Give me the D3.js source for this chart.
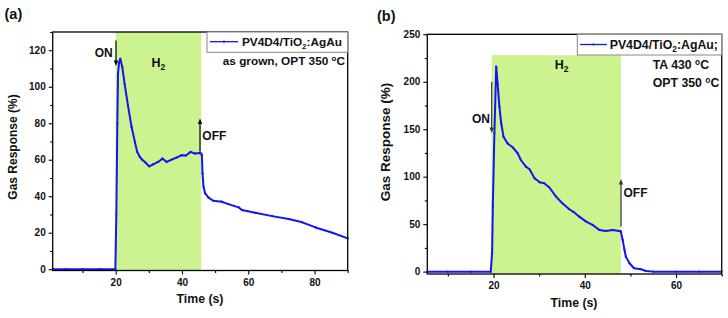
<!DOCTYPE html>
<html><head><meta charset="utf-8">
<script src="https://cdn.jsdelivr.net/npm/d3@7"></script>
<style>body{margin:0;background:#fff}svg{display:block}text{font-family:"Liberation Sans",Arial,sans-serif;font-weight:bold;fill:#111}</style>
</head><body>
<script>
// Panel (a): as grown, OPT 350 °C
const timeA = [1,5,10,15,19.9,20.2,20.5,20.7,21.0,21.4,22.0,22.7,23.7,24.8,25.8,26.5,27.3,28.0,28.8,30.1,31.3,32.8,34.1,35.4,36.9,38.4,39.9,41.2,42.6,43.9,45.2,45.8,46.0,46.2,46.5,47.0,48.0,49.5,52.0,54.0,57.1,58.1,62.1,67.2,72.2,76.3,80.3,85.4,90];
const respA = [0,0,0,0,0,30,80,107,113,115.3,110.7,101.6,89.8,77.9,69.7,64.3,61.5,60,58.8,56.4,57.5,58.8,60.6,58.8,60.1,61.2,62.5,62.3,64.3,63.4,63.7,63.4,62.5,52.5,45.2,41.5,39.2,37.5,37.0,35.7,33.9,32.4,30.9,29.1,27.5,25.7,22.9,20.0,16.9];
// Panel (b): TA 430 °C, OPT 350 °C
const timeB = [5.5,10,15,19.4,19.7,19.85,20.2,20.6,20.9,21.3,21.7,22.2,23.1,24.2,25.3,26.0,27.1,27.9,29.0,30.1,31.1,32.2,33.7,35.1,36.6,37.5,38.8,40.3,41.7,43.2,44.6,46.1,47.5,47.9,48.3,48.7,49.0,49.8,50.8,52.3,53.4,55,60,65,70];
const respB = [0,0,0,0,20,68.5,145.7,215.9,198,173.8,156,142,135,131,124.7,117.6,110.6,107.8,98.3,94.1,93.1,88.9,79,72,65.7,63,57.9,52.7,49.2,43.9,42.9,43.9,42.9,42.3,33.4,22.9,15.8,8.8,3.6,2.5,0.7,0,0,0,0];
const ticksA_x = [20,40,60,80], minorA_x = [10,30,50,70,90];
const ticksA_y = [0,20,40,60,80,100,120], minorA_y = [10,30,50,70,90,110,130];
const ticksB_x = [20,40,60], minorB_x = [10,30,50,70];
const ticksB_y = [0,50,100,150,200,250], minorB_y = [25,75,125,175,225];
const gasA = [20,45.8], gasB = [19.6,47.9];

const W=728,H=318;
const svg=d3.select("body").append("svg").attr("width",W).attr("height",H);
const blue="#1414f5", green="#cdf290";

function panel(o){
  const x=d3.scaleLinear().domain(o.xd).range(o.xr);
  const y=d3.scaleLinear().domain(o.yd).range(o.yr);
  const g=svg.append("g");
  g.append("rect").attr("x",x(o.gas[0])).attr("width",x(o.gas[1])-x(o.gas[0]))
    .attr("y",o.gasTop==null?o.yr[1]:y(o.gasTop)).attr("height",(o.yr[0])-(o.gasTop==null?o.yr[1]:y(o.gasTop)))
    .attr("fill",green);
  const pts=o.t.map((t,i)=>[t,o.v[i]]);
  g.append("path").datum(pts).attr("fill","none").attr("stroke",blue).attr("stroke-width",2)
    .attr("stroke-linejoin","round").attr("d",d3.line().x(d=>x(d[0])).y(d=>y(d[1])));
  g.selectAll("circle.m").data(pts).join("circle").attr("cx",d=>x(d[0])).attr("cy",d=>y(d[1])).attr("r",1.1).attr("fill",blue);
  const ax=g.append("g").attr("transform",`translate(0,${o.yr[0]})`).call(d3.axisBottom(x).tickValues(o.tx).tickSize(4).tickPadding(4).tickFormat(d3.format("d")));
  const axm=g.append("g").attr("transform",`translate(0,${o.yr[0]})`).call(d3.axisBottom(x).tickValues(o.mx).tickSize(2.5).tickFormat(""));
  const ay=g.append("g").attr("transform",`translate(${o.xr[0]},0)`).call(d3.axisLeft(y).tickValues(o.ty).tickSize(4).tickPadding(3).tickFormat(d3.format("d")));
  const aym=g.append("g").attr("transform",`translate(${o.xr[0]},0)`).call(d3.axisLeft(y).tickValues(o.my).tickSize(2.5).tickFormat(""));
  [ax,axm,ay,aym].forEach(a=>{a.select(".domain").remove();a.selectAll("line").attr("stroke","#000").attr("stroke-width",1.1);
    a.selectAll("text").style("font-size","10px").style("font-family","Liberation Sans").style("font-weight","bold").attr("fill","#111");});
  g.append("rect").attr("x",o.xr[0]).attr("y",o.yr[1]).attr("width",o.xr[1]-o.xr[0]).attr("height",o.yr[0]-o.yr[1])
    .attr("fill","none").attr("stroke","#000").attr("stroke-width",1.3);
  return {x,y,g};
}

function arrow(g,xp,y1,y2,col){
  g.append("line").attr("x1",xp).attr("x2",xp).attr("y1",y1).attr("y2",y2+(y2>y1?-4:4)).attr("stroke",col).attr("stroke-width",1.2);
  const d=y2>y1?-1:1;
  g.append("path").attr("d",`M${xp-2.2},${y2+d*5.5}L${xp+2.2},${y2+d*5.5}L${xp},${y2}Z`).attr("fill",col);
}

// ---------- Panel a ----------
const A=panel({xd:[1,90],xr:[52.7,347.7],yd:[-0.7,130],yr:[270.5,32],gas:gasA,gasTop:null,
  t:timeA,v:respA,tx:ticksA_x,mx:minorA_x,ty:ticksA_y,my:minorA_y});
A.g.append("rect").attr("x",207).attr("y",32).attr("width",140.7).attr("height",20.3).attr("fill","#fff").attr("stroke","#888").attr("stroke-width",1);
A.g.append("line").attr("x1",210).attr("x2",238).attr("y1",41.7).attr("y2",41.7).attr("stroke",blue).attr("stroke-width",1.3);
A.g.append("circle").attr("cx",224).attr("cy",41.7).attr("r",1.1).attr("fill",blue);
let t=A.g.append("text").attr("x",242).attr("y",46).style("font-size","11.8px");
t.append("tspan").text("PV4D4/TiO");t.append("tspan").attr("dy",3).style("font-size","8px").text("2");t.append("tspan").attr("dy",-3).text(":AgAu");
t=A.g.append("text").attr("x",345).attr("y",64.5).attr("text-anchor","end").style("font-size","11.8px");
t.append("tspan").text("as grown, OPT 350 ");t.append("tspan").attr("dy",-4).style("font-size","8px").text("o");t.append("tspan").attr("dy",4).text("C");
t=A.g.append("text").attr("x",151.5).attr("y",67.3).style("font-size","12.5px");
t.append("tspan").text("H");t.append("tspan").attr("dy",3).style("font-size","8.5px").text("2");
A.g.append("text").attr("x",112.7).attr("y",56.7).attr("text-anchor","end").style("font-size","12px").text("ON");
arrow(A.g,116,40.5,66,"#000");
A.g.append("text").attr("x",202.3).attr("y",140).style("font-size","12px").text("OFF");
arrow(A.g,200,151.7,118.5,"#000");
svg.append("text").attr("x",200).attr("y",302.5).attr("text-anchor","middle").style("font-size","12.3px").text("Time (s)");
svg.append("text").attr("transform","translate(16.5,147) rotate(-90)").attr("text-anchor","middle").style("font-size","12px").text("Gas Response (%)");
svg.append("text").attr("x",4.5).attr("y",18.5).style("font-size","14.5px").text("(a)");

// ---------- Panel b ----------
const B=panel({xd:[5.5,70],xr:[427.3,721.7],yd:[-2.5,250],yr:[274,34.3],gas:gasB,gasTop:228,
  t:timeB,v:respB,tx:ticksB_x,mx:minorB_x,ty:ticksB_y,my:minorB_y});
B.g.append("rect").attr("x",577.3).attr("y",34.3).attr("width",144.4).attr("height",20.7).attr("fill","#fff").attr("stroke","#888").attr("stroke-width",1);
B.g.append("line").attr("x1",580).attr("x2",607).attr("y1",44.5).attr("y2",44.5).attr("stroke",blue).attr("stroke-width",1.3);
B.g.append("circle").attr("cx",593.5).attr("cy",44.5).attr("r",1.1).attr("fill",blue);
t=B.g.append("text").attr("x",609.7).attr("y",49).style("font-size","12.3px");
t.append("tspan").text("PV4D4/TiO");t.append("tspan").attr("dy",3).style("font-size","8.3px").text("2");t.append("tspan").attr("dy",-3).text(":AgAu;");
t=B.g.append("text").attr("x",652.7).attr("y",68.5).style("font-size","12.3px");
t.append("tspan").text("TA 430 ");t.append("tspan").attr("dy",-4).style("font-size","8.3px").text("o");t.append("tspan").attr("dy",4).text("C");
t=B.g.append("text").attr("x",652.7).attr("y",87).style("font-size","12.3px");
t.append("tspan").text("OPT 350 ");t.append("tspan").attr("dy",-4).style("font-size","8.3px").text("o");t.append("tspan").attr("dy",4).text("C");
t=B.g.append("text").attr("x",554.7).attr("y",69).style("font-size","12.5px");
t.append("tspan").text("H");t.append("tspan").attr("dy",3).style("font-size","8.5px").text("2");
B.g.append("text").attr("x",490).attr("y",123).attr("text-anchor","end").style("font-size","12px").text("ON");
arrow(B.g,491.7,81.7,133,"#333");
B.g.append("text").attr("x",623.5).attr("y",196.7).style("font-size","12px").text("OFF");
arrow(B.g,621,226.7,179,"#333");
svg.append("text").attr("x",574).attr("y",306.5).attr("text-anchor","middle").style("font-size","12.3px").text("Time (s)");
svg.append("text").attr("transform","translate(390,142) rotate(-90)").attr("text-anchor","middle").style("font-size","13.5px").text("Gas Response (%)");
svg.append("text").attr("x",377).attr("y",20.7).style("font-size","14.5px").text("(b)");
</script>
</body></html>
